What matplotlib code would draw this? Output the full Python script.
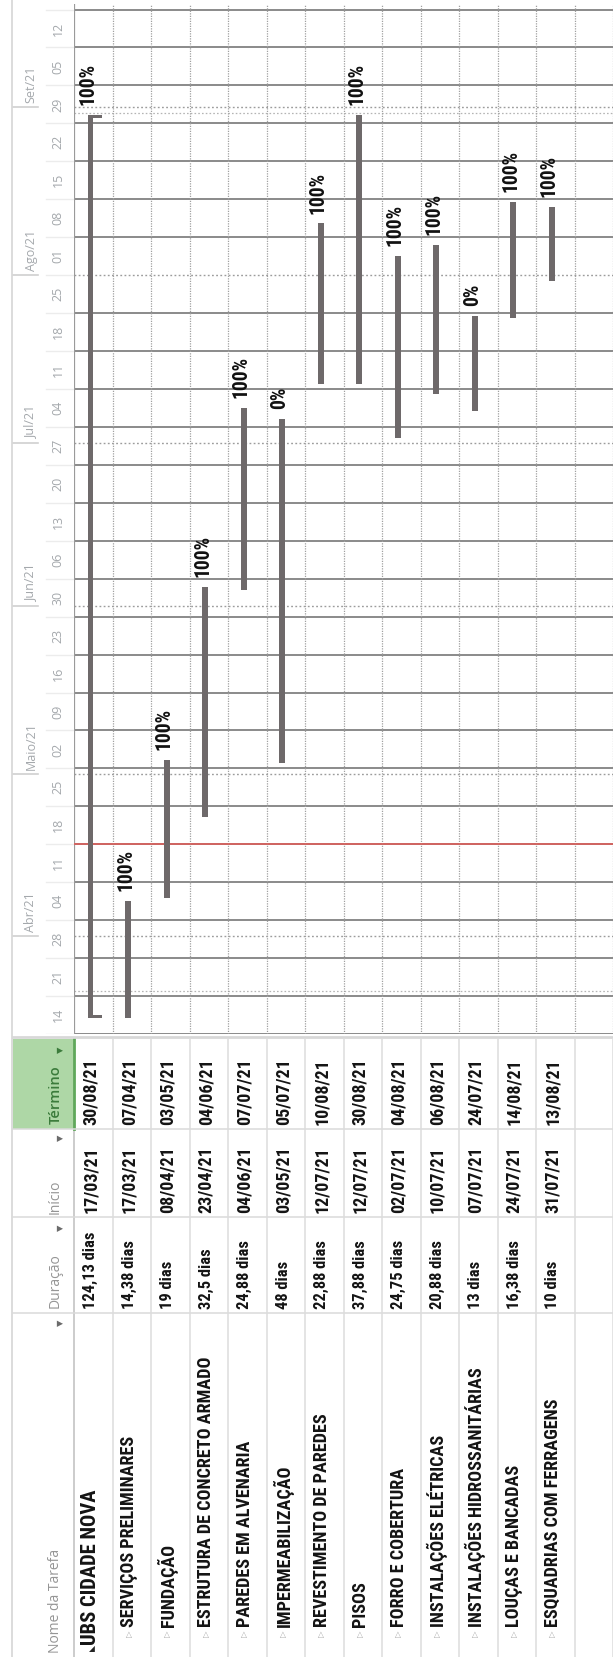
import matplotlib
matplotlib.use("Agg")
import matplotlib.pyplot as plt
import matplotlib.dates as mdates
from matplotlib import font_manager
from datetime import datetime, timedelta

# ---------------- data ----------------
tasks = ["UBS CIDADE NOVA", "SERVIÇOS PRELIMINARES", "FUNDAÇÃO",
         "ESTRUTURA DE CONCRETO ARMADO", "PAREDES EM ALVENARIA",
         "IMPERMEABILIZAÇÃO", "REVESTIMENTO DE PAREDES", "PISOS",
         "FORRO E COBERTURA", "INSTALAÇÕES ELÉTRICAS",
         "INSTALAÇÕES HIDROSSANITÁRIAS", "LOUÇAS E BANCADAS",
         "ESQUADRIAS COM FERRAGENS"]
durations = ["124,13 dias", "14,38 dias", "19 dias", "32,5 dias", "24,88 dias",
             "48 dias", "22,88 dias", "37,88 dias", "24,75 dias", "20,88 dias",
             "13 dias", "16,38 dias", "10 dias"]
starts = ["17/03/21", "17/03/21", "08/04/21", "23/04/21", "04/06/21", "03/05/21",
          "12/07/21", "12/07/21", "02/07/21", "10/07/21", "07/07/21", "24/07/21",
          "31/07/21"]
finishes = ["30/08/21", "07/04/21", "03/05/21", "04/06/21", "07/07/21", "05/07/21",
            "10/08/21", "30/08/21", "04/08/21", "06/08/21", "24/07/21", "14/08/21",
            "13/08/21"]
complete = [100, 100, 100, 100, 100, 0, 100, 100, 100, 100, 0, 100, 100]
month_labels = ["Abr/21", "Maio/21", "Jun/21", "Jul/21", "Ago/21", "Set/21"]
month_starts = ["01/04/21", "01/05/21", "01/06/21", "01/07/21", "01/08/21", "01/09/21"]
first_week = "14/03/21"
last_week = "19/09/21"
status_date = "18/04/21"
extra_dotted = ["22/03/21", "31/08/21"]
headers = ["Nome da Tarefa", "Duração", "Início", "Término"]

# ---------------- fonts ----------------
avail = {f.name for f in font_manager.fontManager.ttflist}
def pick(c):
    for n in c:
        if n in avail:
            return n
    return "DejaVu Sans"
NARROW = pick(["Liberation Sans Narrow", "Roboto Condensed", "Open Sans Condensed", "DejaVu Sans"])
LIGHT = pick(["Open Sans", "Noto Sans", "DejaVu Sans"])
SYM = ["DejaVu Sans"]

W, H = 613, 1657
ROW_PX = 38.5
X0 = 74            # left edge of the rows
CHART_TOP = 4
CHART_BOTTOM = 1034
PX_PER_DAY = 5.4205

def D(s):
    return datetime.strptime(s, "%d/%m/%y")

def box(x0, y0, x1, y1):
    return [x0 / W, 1 - y1 / H, (x1 - x0) / W, (y1 - y0) / H]

fig = plt.figure(figsize=(W / 100, H / 100), dpi=100)
fig.patch.set_facecolor("white")
renderer = fig.canvas.get_renderer()

def fit_size(sample, target_px, family, weight="bold", base=12.0):
    t = fig.text(0, 0, sample, fontsize=base, family=family, fontweight=weight)
    w = t.get_window_extent(renderer).width
    t.remove()
    return base * target_px / w

S_NAME = fit_size("ESTRUTURA DE CONCRETO ARMADO", 271, NARROW)
S_TOP = fit_size("UBS CIDADE NOVA", 155, NARROW)
S_DUR = fit_size("124,13 dias", 77, NARROW)
S_DATE = fit_size("30/08/21", 66, NARROW)
S_PCT = fit_size("100%", 42, NARROW)

t0 = D(first_week)
t1 = t0 + timedelta(days=(CHART_BOTTOM - CHART_TOP) / PX_PER_DAY)
n0, n1 = mdates.date2num(t0), mdates.date2num(t1)

# ---------------- gantt ----------------
ax = fig.add_axes(box(X0, CHART_TOP, W, CHART_BOTTOM))
ax.set_xlim(0, 14)
ax.set_ylim(n0, n1)
ax.axis("off")

ms = [D(m) for m in month_starts]
d = D(first_week)
weeks = []
while d <= D(last_week):
    weeks.append(d)
    d += timedelta(days=7)
for w in weeks:
    if w not in ms:
        ax.axhline(mdates.date2num(w), color="#8a8a8a", lw=1.4, zorder=1)
for m in ms:
    ax.axhline(mdates.date2num(m), color="#9c9c9c", lw=1.0, ls=(0, (1.3, 1.7)), zorder=1)
for e in extra_dotted:
    ax.axhline(mdates.date2num(D(e)), color="#b4b4b4", lw=0.9, ls=(0, (1.3, 1.7)), zorder=1)
for i in range(1, 15):
    ax.axvline(i, color="#a0a0a0", lw=0.9, ls=(0, (1, 1)), zorder=1)
ax.axvline(0, color="#9a9a9a", lw=1.6, zorder=2)
ax.axhline(mdates.date2num(D(status_date)), color="#e45a55", lw=1.1, zorder=2)

BAR = "#6e696a"
for i in range(len(tasks)):
    s = mdates.date2num(D(starts[i]))
    f = mdates.date2num(D(finishes[i]) + timedelta(hours=13))
    if i == 0:
        bw = 5.0 / ROW_PX
        xc = i + 0.5 - 3.2 / ROW_PX
        ax.bar(xc, f - s, bottom=s, width=bw, color=BAR, zorder=3)
        capw = 14.0 / ROW_PX
        caph = 3.0 / PX_PER_DAY
        ax.bar(xc - bw / 2, caph, bottom=s, width=capw, align="edge", color=BAR, zorder=3)
        ax.bar(xc - bw / 2, caph, bottom=f - caph, width=capw, align="edge", color=BAR, zorder=3)
    else:
        bw = 6.2 / ROW_PX
        xc = i + 0.5 - 3.5 / ROW_PX
        ax.bar(xc, f - s, bottom=s, width=bw, color=BAR, zorder=3)
    ax.annotate(f"{complete[i]}%", xy=(xc - 2.5 / ROW_PX, f), xytext=(0, 7),
                textcoords="offset points", rotation=90, ha="center", va="bottom",
                fontsize=S_PCT, fontweight="bold", family=NARROW, color="#111111", zorder=4)

# ---------------- timescale header ----------------
axh = fig.add_axes(box(0, CHART_TOP, X0, CHART_BOTTOM), sharey=ax)
axh.set_xlim(0, X0)
axh.axis("off")
for w in weeks[:-1]:
    axh.text(58, mdates.date2num(w + timedelta(days=3.5)), f"{w.day:02d}", rotation=90,
             ha="center", va="center", fontsize=9, family=LIGHT, color="#a4a8ac")
for w in weeks:
    axh.plot([46, X0], [mdates.date2num(w)] * 2, color="#ececec", lw=1)
for m, lab in zip(ms, month_labels):
    y = mdates.date2num(m)
    axh.plot([13, 38], [y, y], color="#d0d0d0", lw=1.2)
    axh.text(31, y + 4 / PX_PER_DAY, lab, rotation=90, ha="center", va="bottom",
             fontsize=9, family=LIGHT, color="#a4a8ac")

# window border
axb = fig.add_axes([0, 0, 1, 1])
axb.set_xlim(0, W)
axb.set_ylim(H, 0)
axb.axis("off")
axb.patch.set_alpha(0)
axb.plot([12, 12], [0, H], color="#d6d6d6", lw=1.2)

# ---------------- table ----------------
axt = fig.add_axes(box(0, CHART_BOTTOM, W, H))
axt.set_xlim(-X0 / ROW_PX, W / ROW_PX - X0 / ROW_PX)
axt.set_ylim(H, CHART_BOTTOM)
axt.axis("off")
axt.patch.set_alpha(0)

def px(p):
    return (p - X0) / ROW_PX

TOP = 1039
col_sep = [1128.5, 1217, 1313]
axt.add_patch(plt.Rectangle((px(12.5), TOP), px(74) - px(12.5), col_sep[0] - TOP,
                            facecolor="#aed7a6", edgecolor="none", zorder=0))
axt.plot([px(73.5), px(73.5)], [TOP, col_sep[0]], color="#5fa85a", lw=2, zorder=2)
axt.plot([px(12.5), px(W)], [CHART_BOTTOM + 2.5, CHART_BOTTOM + 2.5], color="#d8d8d8", lw=2)
for y in col_sep:
    axt.plot([px(12.5), px(W)], [y, y], color="#dadada", lw=1.1)
axt.plot([0, 0], [TOP, H], color="#c4c4c4", lw=1.2, zorder=1)
for i in range(1, 15):
    axt.plot([i, i], [TOP, H], color="#dcdcdc", lw=1.1)

hx = px(55.5)
ax_arrow = px(60)
axt.text(hx, 1124, headers[3], rotation=90, ha="center", va="bottom", fontsize=10.5,
         family=LIGHT, color="#3b7b3b", fontweight="semibold")
axt.text(ax_arrow, 1050, "▼", rotation=90, ha="center", va="center", fontsize=6,
         family=SYM, color="#3b7b3b")
axt.text(hx, 1214, headers[2], rotation=90, ha="center", va="bottom", fontsize=10,
         family=LIGHT, color="#959595")
axt.text(ax_arrow, 1138, "▼", rotation=90, ha="center", va="center", fontsize=6,
         family=SYM, color="#6a6a6a")
axt.text(hx, 1308, headers[1], rotation=90, ha="center", va="bottom", fontsize=10,
         family=LIGHT, color="#959595")
axt.text(ax_arrow, 1228, "▼", rotation=90, ha="center", va="center", fontsize=6,
         family=SYM, color="#6a6a6a")
axt.text(hx, 1653, headers[0], rotation=90, ha="center", va="bottom", fontsize=10,
         family=LIGHT, color="#959595")
axt.text(ax_arrow, 1323, "▼", rotation=90, ha="center", va="center", fontsize=6,
         family=SYM, color="#6a6a6a")

TXT = "#141414"
for i in range(len(tasks)):
    xc = i + 0.5 - 2.5 / ROW_PX
    axt.text(xc, 1125, finishes[i], rotation=90, ha="center", va="bottom",
             fontsize=S_DATE, fontweight="bold", family=NARROW, color=TXT)
    axt.text(xc, 1213, starts[i], rotation=90, ha="center", va="bottom",
             fontsize=S_DATE, fontweight="bold", family=NARROW, color=TXT)
    axt.text(xc, 1309, durations[i], rotation=90, ha="center", va="bottom",
             fontsize=S_DUR, fontweight="bold", family=NARROW, color=TXT)
    if i == 0:
        axt.text(xc + 0.02, 1649, "◢", rotation=0, ha="center", va="center",
                 fontsize=5.5, family=SYM, color="#222222")
        axt.text(xc, 1645, tasks[i], rotation=90, ha="center", va="bottom",
                 fontsize=S_TOP, fontweight="bold", family=NARROW, color=TXT)
    else:
        axt.text(xc, 1634, "▷", rotation=90, ha="center", va="center",
                 fontsize=6, family=SYM, color="#a8a8a8")
        axt.text(xc, 1627, tasks[i], rotation=90, ha="center", va="bottom",
                 fontsize=S_NAME, fontweight="bold", family=NARROW, color=TXT)

fig.savefig("out.png", dpi=100, facecolor="white")
